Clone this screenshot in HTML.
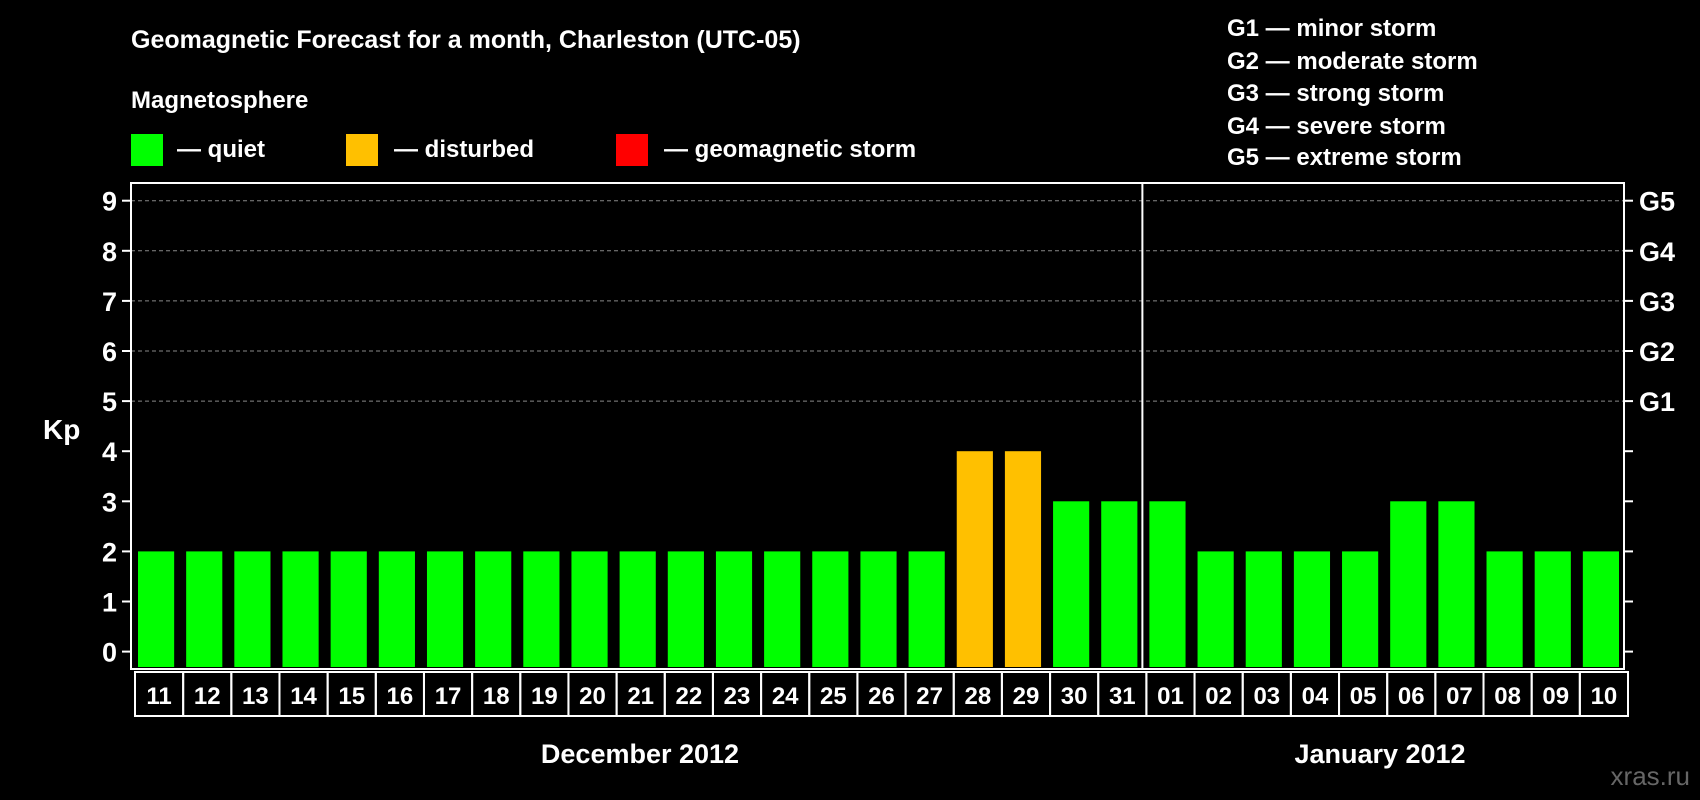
<!DOCTYPE html>
<html><head><meta charset="utf-8"><style>
html,body{margin:0;padding:0;background:#000;}
svg{display:block;font-family:"Liberation Sans",Arial,sans-serif;font-weight:bold;}
</style></head><body>
<svg id="chart" width="1700" height="800" viewBox="0 0 1700 800">
<text x="131" y="48" fill="#fff" font-size="25">Geomagnetic Forecast for a month, Charleston (UTC-05)</text>
<text x="131" y="108" fill="#fff" font-size="24">Magnetosphere</text>
<rect x="131" y="134" width="32" height="32" fill="#00ff00"/>
<text x="177" y="157" fill="#fff" font-size="24">— quiet</text>
<rect x="346" y="134" width="32" height="32" fill="#ffc000"/>
<text x="394" y="157" fill="#fff" font-size="24">— disturbed</text>
<rect x="616" y="134" width="32" height="32" fill="#ff0000"/>
<text x="664" y="157" fill="#fff" font-size="24">— geomagnetic storm</text>
<g font-size="24" fill="#fff">
<text x="1227" y="36">G1 — minor storm</text>
<text x="1227" y="69">G2 — moderate storm</text>
<text x="1227" y="101">G3 — strong storm</text>
<text x="1227" y="134">G4 — severe storm</text>
<text x="1227" y="165">G5 — extreme storm</text>
</g>
<text x="43" y="439" fill="#fff" font-size="28">Kp</text>
<text x="640" y="763" fill="#fff" font-size="27" text-anchor="middle">December 2012</text>
<text x="1380" y="763" fill="#fff" font-size="27" text-anchor="middle">January 2012</text>
<text x="1690" y="785" fill="#666" font-size="26" text-anchor="end" font-weight="normal">xras.ru</text>
<g id="plot"></g>
</svg>
<script>
const days = ["11","12","13","14","15","16","17","18","19","20","21","22","23","24","25","26","27","28","29","30","31","01","02","03","04","05","06","07","08","09","10"];
const kp = [2,2,2,2,2,2,2,2,2,2,2,2,2,2,2,2,2,4,4,3,3,3,2,2,2,2,3,3,2,2,2];
const yTicks = [0,1,2,3,4,5,6,7,8,9];
const gLabels = ["G1","G2","G3","G4","G5"];
const gLevels = [5,6,7,8,9];
const monthSplit = 21;

const NS="http://www.w3.org/2000/svg";
const L=131,R=1624,T=183,B=669,Y0=651.6,UNIT=50.1;
const pitch=(R-L)/days.length;
const y=v=>Y0-v*UNIT;
const x=i=>L+i*pitch;
const g=document.getElementById('plot');
function mk(tag,attrs){const e=document.createElementNS(NS,tag);for(const k in attrs)e.setAttribute(k,attrs[k]);g.appendChild(e);return e;}
yTicks.forEach(v=>{
  if(v>=5){const gl=mk('line',{x1:L,x2:R,y1:y(v),y2:y(v),stroke:'#888','stroke-dasharray':'4,3','stroke-width':1});
  
  }
  const t=mk('line',{x1:L-9,x2:L,y1:y(v),y2:y(v),stroke:'#fff','stroke-width':2});
  
  
  const t2=mk('line',{x1:R,x2:R+9,y1:y(v),y2:y(v),stroke:'#fff','stroke-width':2});
  
  
  const tl=mk('text',{x:L-14,y:y(v)+10,fill:'#fff','font-size':27,'text-anchor':'end'});
  tl.textContent=v;
  
  
});
gLabels.forEach((s,i)=>{
  const t=mk('text',{x:R+15,y:y(gLevels[i])+10,fill:'#fff','font-size':27});
  t.textContent=s;
  
  
});
kp.forEach((v,i)=>{
  const col=v>=5?'#ff0000':(v>=4?'#ffc000':'#00ff00');
  const b=mk('rect',{x:x(i)+7,y:y(v),width:pitch-14+2,height:B-2-y(v),fill:col});
  
  
});
const frame=mk('rect',{x:L,y:T,width:R-L,height:B-T,fill:'none',stroke:'#fff','stroke-width':2});


const sep=mk('line',{x1:x(monthSplit),x2:x(monthSplit),y1:T,y2:B,stroke:'#fff','stroke-width':2});


days.forEach((d,i)=>{
  const c=mk('rect',{x:x(i)+4,y:B+3,width:pitch,height:44,fill:'none',stroke:'#fff','stroke-width':2});
  
  
  const t=mk('text',{x:x(i)+4+pitch/2,y:B+35,fill:'#fff','font-size':24,'text-anchor':'middle'});
  t.textContent=d;
  
  
});
</script>
</body></html>
